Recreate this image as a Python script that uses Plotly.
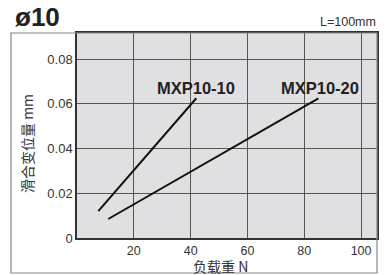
import plotly.graph_objects as go

# Data
series_names = ["MXP10-10", "MXP10-20"]
load_10 = [7.5, 42]
disp_10 = [0.012, 0.0625]
load_20 = [11, 85]
disp_20 = [0.0085, 0.0625]
x_ticks = [20, 40, 60, 80, 100]
y_ticks = [0, 0.02, 0.04, 0.06, 0.08]
y_tick_text = ["0", "0.02", "0.04", "0.06", "0.08"]

W, H = 389, 275
L, R, T, B = 77, 12, 33, 37
pw, ph = W - L - R, H - T - B

fig = go.Figure()
fig.add_trace(go.Scatter(x=load_10, y=disp_10, mode="lines", name=series_names[0],
                         line=dict(color="#111111", width=2), showlegend=False))
fig.add_trace(go.Scatter(x=load_20, y=disp_20, mode="lines", name=series_names[1],
                         line=dict(color="#111111", width=2), showlegend=False))

font = "Liberation Sans, Arial, sans-serif"
cjk = "Noto Sans CJK SC, sans-serif"

fig.update_layout(
    width=W, height=H,
    margin=dict(l=L, r=R, t=T, b=B, autoexpand=False),
    paper_bgcolor="white",
    plot_bgcolor="#e0e0e2",
    font=dict(family=font, size=12, color="#333333"),
    xaxis=dict(range=[0, 105.6], tickvals=x_ticks, ticktext=[str(v) for v in x_ticks],
               showgrid=True, gridcolor="#555555", gridwidth=1,
               showline=True, linecolor="#333333", linewidth=1.5, mirror=True,
               ticks="", zeroline=False, tickfont=dict(size=12.5, color="#333333")),
    yaxis=dict(range=[0, 0.0917], tickvals=y_ticks, ticktext=y_tick_text,
               showgrid=True, gridcolor="#555555", gridwidth=1,
               showline=True, linecolor="#333333", linewidth=1.5, mirror=True,
               ticks="", zeroline=False, tickfont=dict(size=13, color="#333333")),
)

def px(x):
    return (x - L) / pw

def py(y):
    return (T + ph - y) / ph

# outer frame
fig.add_shape(type="rect", xref="paper", yref="paper",
              x0=px(11), x1=1, y0=py(273), y1=1,
              line=dict(color="#888888", width=1.2), layer="above")

def note(x, y, text, size, family=font, color="#222222", **kw):
    fig.add_annotation(x=px(x), y=py(y), xref="paper", yref="paper", text=text,
                       showarrow=False, xanchor=kw.pop("xanchor", "center"),
                       yanchor=kw.pop("yanchor", "middle"),
                       font=dict(family=family, size=size, color=color), **kw)

# series labels
note(196, 88, "<b>MXP10-10</b>", 16.5)
note(320, 88, "<b>MXP10-20</b>", 16.5)

# title and note
note(13, 17, "<b>ø10</b>", 26, xanchor="left")
note(378, 22, "L=100mm", 12.5, color="#333333", xanchor="right")

# axis titles
note(220, 266, "负载重 N", 14, family=cjk, color="#333333")
note(27, 144, "滑合变位量 mm", 14, family=cjk, color="#333333", textangle=-90)

fig.write_html("out.html", post_script="document.body.style.margin='0';",
               config={"displayModeBar": False})
